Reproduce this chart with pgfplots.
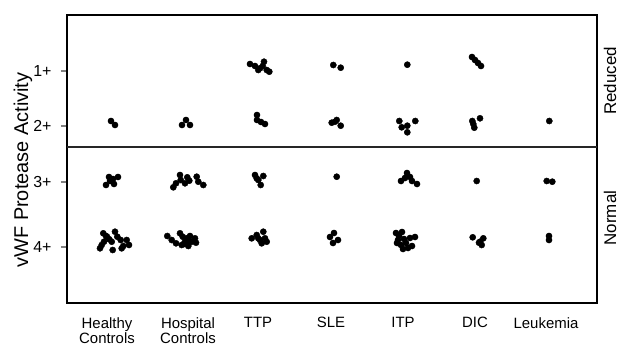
\documentclass[border=0pt]{standalone}
\usepackage{fontspec}
\setmainfont{Liberation Sans}
\usepackage{pgfplots}
\pgfplotsset{compat=1.18}
\tikzset{dots/.style={only marks, mark=*, mark size=3.1pt, draw=black, fill=black, mark options={draw=black, fill=black}}}
\begin{document}
\begin{tikzpicture}
\begin{axis}[
  scale only axis, width=530bp, height=288bp,
  xmin=67, xmax=597, ymin=15, ymax=303, y dir=reverse,
  axis line style={line width=2.8bp},
  xtick={107,188,258,331,403,475,546},
  xticklabels={Healthy\\Controls, Hospital\\Controls, TTP, SLE, ITP, DIC, Leukemia},
  xticklabel style={align=center, font=\fontsize{15}{15}\selectfont, yshift=-5bp},
  major x tick style={draw=none},
  ytick={70.7,125.7,181.7,246.7},
  yticklabels={1+,2+,3+,4+},
  ytick pos=left, tick align=outside,
  major tick length=6bp,
  ytick style={line width=2.4bp},
  yticklabel style={font=\fontsize{16}{16}\selectfont, xshift=-6bp},
  clip=false,
]
\draw[line width=1.2bp, black!85] (axis cs:67,147) -- (axis cs:597,147);
% Healthy Controls
\addplot[dots] coordinates {(111,121)(115,125)
 (106,185)(110,181)(114,184)(109,177)(118,177)(113,179)
 (103.3,233.3)(106,236)(109.3,239.3)(104,241.7)(101.7,245)(100,248.3)(112.7,250)(115,231.7)
 (117.3,236.7)(120.7,240)(123.3,246)(126.7,240)(129,245)(121.7,248.3)(111.7,241.7)(107,236.7)};
% Hospital Controls
\addplot[dots] coordinates {(182,125)(186,120)(190,125)
 (173.3,187.3)(176,183.3)(180,175)(180.7,180)(185,183.3)(187.3,177.3)(189.3,180.7)(196.7,176.7)(198.3,181.7)(203.3,185)
 (167.3,236)(171.7,240)(176,243.3)(180,233.3)(182.7,236.7)(185,241.7)(186.7,238.3)(188.3,246)(190,236)(191.7,241.7)
 (195,238.3)(196,242.7)(181.7,245)(184,244)(189,242)};
% TTP
\addplot[dots] coordinates {(250,64)(255,66)(260,68.3)(264,61.7)(262.7,66)(266.7,70)(269.3,71.7)(258.3,70)
 (257,115)(257,120)(261,122)(265,124)
 (255,175)(258.3,180)(260.7,185)(263.3,176)(256.7,178.3)
 (251.7,238.3)(256.7,235)(260,240)(263.3,231.7)(265,238.3)(261.7,243.3)(266.7,241.7)(258.3,238.3)};
% SLE
\addplot[dots] coordinates {(333.3,65)(340.7,67.7)
 (331.7,122.7)(336.7,120)(340.7,125.7)(335,121.7)
 (336.7,176.7)
 (330,237)(334,233)(333,243)(338,240)};
% ITP
\addplot[dots] coordinates {(407.3,64.7)
 (399.3,121)(401.7,127.3)(407.3,125.7)(407.3,132.3)(415.3,121)
 (401,181)(405,178)(407,173)(410,177)(412,181)(417,184)
 (396,233)(399,236)(402,232)(404,239)(397,243)(401,245)(406,243)(410,238)(412,246)(415,237)(408,248)(403,249)(398,240)};
% DIC
\addplot[dots] coordinates {(472,57)(475,60)(478,63)(481,66)
 (472.3,121)(474.3,127.7)(480,118.3)(473.3,124)
 (476.7,181)
 (472.7,237.3)(479,242.7)(483.3,238.3)(481.7,245)(480,241.7)};
% Leukemia
\addplot[dots] coordinates {(549.3,121)
 (546.7,181)(552.3,181.7)
 (549,236)(549,240)};
\node[rotate=90, font=\fontsize{20}{20}\selectfont] at (axis cs:23,170) {vWF Protease Activity};
\node[rotate=90, font=\fontsize{17}{17}\selectfont] at (axis cs:610,81) {Reduced};
\node[rotate=90, font=\fontsize{17}{17}\selectfont] at (axis cs:610,218) {Normal};
\coordinate (bbA) at (axis cs:0,0);
\coordinate (bbB) at (axis cs:621,346);
\end{axis}
\pgfresetboundingbox
\useasboundingbox (bbA) rectangle (bbB);
\end{tikzpicture}
\end{document}
